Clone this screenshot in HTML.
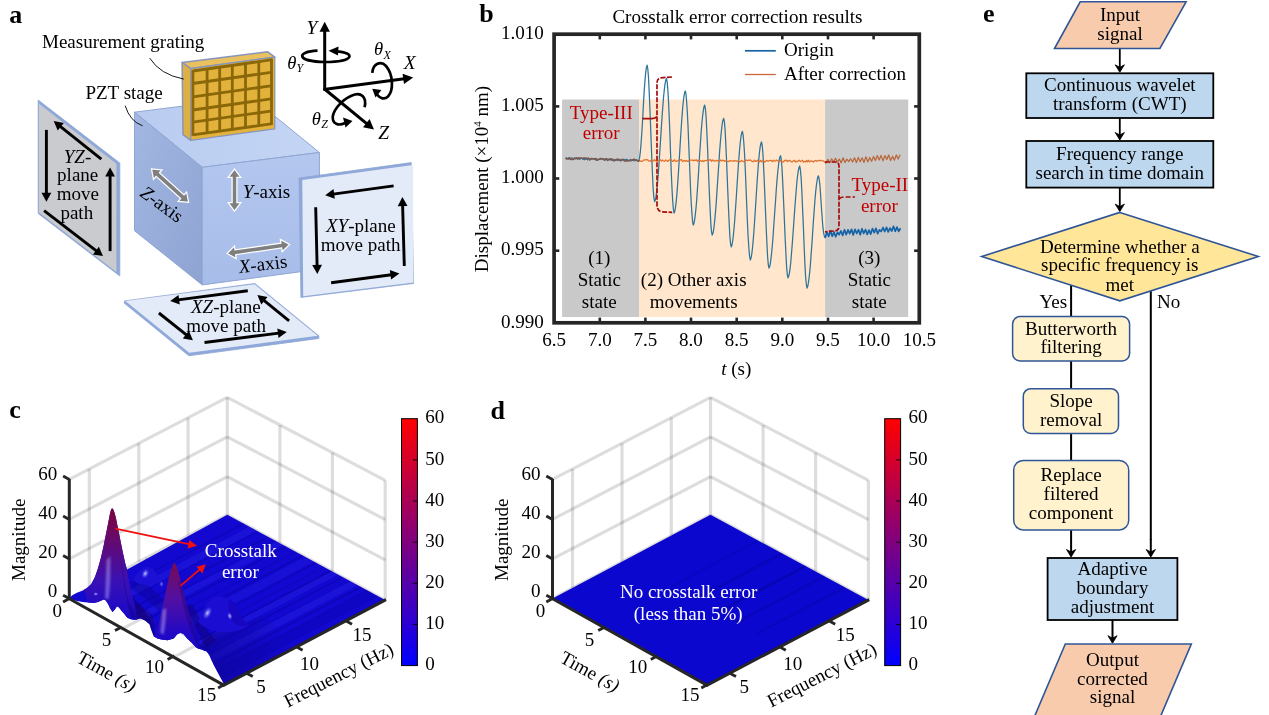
<!DOCTYPE html>
<html lang="en"><head><meta charset="utf-8"><title>Crosstalk error correction figure</title>
<style>
html,body{margin:0;padding:0;background:#fff;}
body{width:1269px;height:715px;overflow:hidden;}
svg{display:block;font-family:'Liberation Serif', serif;}
</style></head>
<body>
<svg width="1269" height="715" viewBox="0 0 1269 715">
<rect width="1269" height="715" fill="#fff"/>
<defs><linearGradient id="cubeL" x1="0" y1="0" x2="1" y2="1"><stop offset="0" stop-color="#A3B7E2"/><stop offset="1" stop-color="#8EA3D2"/></linearGradient><linearGradient id="cubeF" x1="0" y1="0" x2="0" y2="1"><stop offset="0" stop-color="#B3C7EF"/><stop offset="1" stop-color="#A7BCE8"/></linearGradient><linearGradient id="cubeT" x1="0" y1="0" x2="1" y2="0"><stop offset="0" stop-color="#B9CCF0"/><stop offset="1" stop-color="#C4D5F4"/></linearGradient></defs>
<g id="panel-a">
<text x="9.2" y="22.8" font-size="26" font-weight="bold">a</text>
<polygon points="38.2,100 119.8,163 119.8,276 38.2,213.5" fill="#8FA8DA" stroke="#8FA6D2" stroke-width="0.8"/>
<polygon points="39,103.8 116.4,163.8 116.4,272 39,212.6" fill="#C9CBCF"/>
<line x1="101.3" y1="159.2" x2="59.9" y2="126.1" stroke="#000" stroke-width="2.9"/><polygon points="53.7,121.1 63.8,122.9 57.7,130.5" fill="#000"/>
<line x1="46.4" y1="129.9" x2="46.4" y2="193.8" stroke="#000" stroke-width="2.9"/><polygon points="46.4,201.8 41.5,192.8 51.3,192.8" fill="#000"/>
<line x1="44.1" y1="210.6" x2="96.7" y2="251.2" stroke="#000" stroke-width="2.9"/><polygon points="103.0,256.1 92.9,254.5 98.9,246.7" fill="#000"/>
<line x1="110.1" y1="251.1" x2="110.1" y2="175.4" stroke="#000" stroke-width="2.9"/><polygon points="110.1,167.4 115.0,176.4 105.2,176.4" fill="#000"/>
<text x="77.5" y="163" font-size="19.05" text-anchor="middle"><tspan font-style="italic">YZ</tspan>-</text>
<text x="77.7" y="181.2" font-size="19.05" text-anchor="middle">plane</text>
<text x="77.8" y="200.3" font-size="19.05" text-anchor="middle">move</text>
<text x="76.8" y="218.5" font-size="19.05" text-anchor="middle">path</text>
<polygon points="134.5,112.2 202.2,167.3 319.4,152.5 251.7,97.4" fill="url(#cubeT)" stroke="#8FA6D2" stroke-width="1"/>
<polygon points="134.5,112.2 202.2,167.3 202.2,284.9 134.5,230.7" fill="url(#cubeL)" stroke="#8FA6D2" stroke-width="1"/>
<polygon points="202.2,167.3 319.4,152.5 319.4,269.2 202.2,284.9" fill="url(#cubeF)" stroke="#8FA6D2" stroke-width="1"/>
<polygon points="234.5,169.0 228.2,177.4 232.1,177.4 232.1,202.7 228.2,202.7 234.5,211.1 240.8,202.7 236.9,202.7 236.9,177.4 240.8,177.4" fill="#7F7F7F" stroke="#fff" stroke-width="1.25" stroke-linejoin="miter"/>
<polygon points="151.5,169.0 153.5,179.3 156.1,176.4 180.7,198.5 178.1,201.4 188.6,202.3 186.6,192.0 184.0,194.9 159.4,172.8 162.0,169.9" fill="#7F7F7F" stroke="#fff" stroke-width="1.25" stroke-linejoin="miter"/>
<polygon points="227.0,253.5 236.2,258.5 235.7,254.7 281.6,248.0 282.2,251.8 289.6,244.4 280.4,239.4 280.9,243.2 235.0,249.9 234.4,246.1" fill="#7F7F7F" stroke="#fff" stroke-width="1.25" stroke-linejoin="miter"/>
<text x="242.7" y="198" font-size="19.05"><tspan font-style="italic">Y</tspan>-axis</text>
<text transform="translate(139,195.3) rotate(36)" font-size="19.05"><tspan font-style="italic">Z</tspan>-axis</text>
<text transform="translate(239.5,273.3) rotate(-7)" font-size="19.05"><tspan font-style="italic">X</tspan>-axis</text>
<polygon points="182.1,62.5 267.8,51.8 274.8,57.1 190.8,68.6" fill="#E9C15F" stroke="#8795BA" stroke-width="1.5" stroke-linejoin="round"/>
<polygon points="182.1,62.5 190.8,68.6 190.8,140.3 183,134.6" fill="#DDB045" stroke="#8795BA" stroke-width="1.5" stroke-linejoin="round"/>
<polygon points="190.8,68.6 274.8,57.1 274.8,128.8 190.8,140.3" fill="#E3B23C" stroke="#8795BA" stroke-width="1.2" stroke-linejoin="round"/>
<line x1="192.8" y1="71.0" x2="272.4" y2="59.7" stroke="#8A6708" stroke-width="2.8"/>
<line x1="192.8" y1="83.5" x2="272.4" y2="72.2" stroke="#8A6708" stroke-width="2.8"/>
<line x1="192.8" y1="96.9" x2="272.4" y2="85.6" stroke="#8A6708" stroke-width="2.8"/>
<line x1="192.8" y1="110.0" x2="272.4" y2="98.7" stroke="#8A6708" stroke-width="2.8"/>
<line x1="192.8" y1="122.1" x2="272.4" y2="110.9" stroke="#8A6708" stroke-width="2.8"/>
<line x1="192.8" y1="134.9" x2="272.4" y2="123.7" stroke="#8A6708" stroke-width="2.8"/>
<line x1="192.9" y1="70.0" x2="192.9" y2="135.9" stroke="#8A6708" stroke-width="2.8"/>
<line x1="207.1" y1="68.0" x2="207.1" y2="133.9" stroke="#8A6708" stroke-width="2.8"/>
<line x1="219.7" y1="66.2" x2="219.7" y2="132.1" stroke="#8A6708" stroke-width="2.8"/>
<line x1="232.3" y1="64.4" x2="232.3" y2="130.3" stroke="#8A6708" stroke-width="2.8"/>
<line x1="245.5" y1="62.5" x2="245.5" y2="128.5" stroke="#8A6708" stroke-width="2.8"/>
<line x1="258.8" y1="60.6" x2="258.8" y2="126.6" stroke="#8A6708" stroke-width="2.8"/>
<line x1="271.5" y1="58.8" x2="271.5" y2="124.8" stroke="#8A6708" stroke-width="2.8"/>
<path d="M149.7,58.1 Q160,74.5 183.8,79.1" fill="none" stroke="#000" stroke-width="0.9"/>
<path d="M125.2,105.7 Q130,121.5 142.7,125.8" fill="none" stroke="#000" stroke-width="0.9"/>
<text x="42" y="47.9" font-size="19.05">Measurement grating</text>
<text x="85.4" y="98.6" font-size="19.05">PZT stage</text>
<polygon points="124.4,300.9 254.8,283.5 318.9,335.9 318.9,338.5 188.9,355.8 124.4,303.3" fill="#8FA8DA" stroke="#8FA6D2" stroke-width="0.8"/>
<polygon points="125.4,300.9 254.6,284.2 317.6,335.7 189.2,352.8" fill="#E4EBF8"/>
<line x1="247.8" y1="290.8" x2="178.1" y2="299.9" stroke="#000" stroke-width="2.9"/><polygon points="170.2,300.9 178.5,294.9 179.8,304.6" fill="#000"/>
<line x1="158.9" y1="313.0" x2="186.7" y2="335.2" stroke="#000" stroke-width="2.9"/><polygon points="192.9,340.2 182.8,338.4 188.9,330.8" fill="#000"/>
<line x1="204.5" y1="342.5" x2="278.9" y2="333.1" stroke="#000" stroke-width="2.9"/><polygon points="286.8,332.1 278.5,338.1 277.3,328.4" fill="#000"/>
<line x1="289.1" y1="320.8" x2="263.6" y2="300.1" stroke="#000" stroke-width="2.9"/><polygon points="257.4,295.1 267.5,297.0 261.3,304.6" fill="#000"/>
<text x="225.8" y="312.5" font-size="19.05" text-anchor="middle"><tspan font-style="italic">XZ</tspan>-plane</text>
<text x="226.2" y="331.5" font-size="19.05" text-anchor="middle">move path</text>
<polygon points="299,178 411.2,162.6 413.6,283.4 300.9,297.4" fill="#8FA8DA" stroke="#8FA6D2" stroke-width="0.8"/>
<polygon points="302.3,180 413,165 413.4,282.6 303.2,296.3" fill="#E4EBF8"/>
<line x1="393.6" y1="185.9" x2="333.1" y2="194.1" stroke="#000" stroke-width="2.9"/><polygon points="325.2,195.2 333.5,189.1 334.8,198.8" fill="#000"/>
<line x1="315.7" y1="207.3" x2="317.1" y2="265.9" stroke="#000" stroke-width="2.9"/><polygon points="317.3,273.9 312.2,265.0 322.0,264.8" fill="#000"/>
<line x1="331.1" y1="282.7" x2="391.5" y2="274.7" stroke="#000" stroke-width="2.9"/><polygon points="399.4,273.6 391.1,279.6 389.8,269.9" fill="#000"/>
<line x1="404.3" y1="266.0" x2="402.6" y2="205.1" stroke="#000" stroke-width="2.9"/><polygon points="402.4,197.1 407.5,206.0 397.7,206.2" fill="#000"/>
<text x="360.8" y="232.2" font-size="19.05" text-anchor="middle"><tspan font-style="italic">XY</tspan>-plane</text>
<text x="360.6" y="250.6" font-size="19.05" text-anchor="middle">move path</text>
<line x1="324.7" y1="90.5" x2="324.7" y2="30.8" stroke="#000" stroke-width="3.0"/><polygon points="324.7,21.8 329.9,31.8 319.5,31.8" fill="#000"/>
<line x1="323.7" y1="89.5" x2="404.3" y2="78.8" stroke="#000" stroke-width="3.0"/><polygon points="413.2,77.6 404.0,84.1 402.6,73.8" fill="#000"/>
<line x1="323.9" y1="88.5" x2="367.0" y2="123.8" stroke="#000" stroke-width="3.0"/><polygon points="374.0,129.5 363.0,127.2 369.6,119.1" fill="#000"/>
<path d="M317.5,50.6 C296,51.5 296,61.5 325,62 C355,62 356,52.5 336,51.3" fill="none" stroke="#000" stroke-width="2.7"/>
<polygon points="328.5,50.8 338.5,46.4 338,55.6" fill="#000"/>
<path d="M372.3,72.8 C373,63.5 381,60.5 386,66 C393,74 394,90 388,96.5 C384.5,100 380,98.5 377,94.5" fill="none" stroke="#000" stroke-width="2.7"/>
<polygon points="372.2,88.8 381.5,90 375.5,97.5" fill="#000"/>
<path d="M364.6,107.2 C367,97 361,91.5 352,95.5 C340,100.5 331,113 333,120 C334.5,125 340,125.5 345,123" fill="none" stroke="#000" stroke-width="2.7"/>
<polygon points="352.5,121 343,117.5 345.5,127.5" fill="#000"/>
<text x="306.5" y="34.3" font-size="19.5" font-style="italic">Y</text>
<text x="403.7" y="69.2" font-size="19.5" font-style="italic">X</text>
<text x="378.2" y="138.9" font-size="19.5" font-style="italic">Z</text>
<text x="287.2" y="68.6" font-size="18.6" font-style="italic">θ<tspan font-size="12" dy="3.8" dx="0.2">Y</tspan></text>
<text x="374" y="54.6" font-size="18.6" font-style="italic">θ<tspan font-size="12" dy="4.4" dx="0.3">X</tspan></text>
<text x="311.8" y="124.8" font-size="18.6" font-style="italic">θ<tspan font-size="12" dy="3.4" dx="0.3">Z</tspan></text>
</g>
<g id="panel-b">
<text x="479.2" y="22.4" font-size="26" font-weight="bold">b</text>
<text x="737.4" y="22.8" font-size="19.05" text-anchor="middle">Crosstalk error correction results</text>
<rect x="562.1" y="99.5" width="76.9" height="217.5" fill="#C9C9C9"/>
<rect x="639" y="99.5" width="186.1" height="217.5" fill="#FFE6CC"/>
<rect x="825.1" y="99.5" width="83.1" height="217.5" fill="#C9C9C9"/>
<text x="599.3" y="264.4" font-size="19.05" text-anchor="middle">(1)</text>
<text x="599.3" y="285.9" font-size="19.05" text-anchor="middle">Static</text>
<text x="599.3" y="307.8" font-size="19.05" text-anchor="middle">state</text>
<text x="693.7" y="285.9" font-size="19.05" text-anchor="middle">(2) Other axis</text>
<text x="693.7" y="307.8" font-size="19.05" text-anchor="middle">movements</text>
<text x="869.3" y="264.4" font-size="19.05" text-anchor="middle">(3)</text>
<text x="869.3" y="285.9" font-size="19.05" text-anchor="middle">Static</text>
<text x="869.3" y="307.8" font-size="19.05" text-anchor="middle">state</text>
<path d="M565.5,158.2 L566.6,157.9 L567.7,158.8 L568.8,157.8 L569.9,158.7 L571.0,158.4 L572.1,157.9 L573.2,158.7 L574.3,157.9 L575.4,158.6 L576.5,158.0 L577.6,158.1 L578.7,158.7 L579.8,159.4 L580.9,158.2 L582.0,158.4 L583.1,159.2 L584.2,159.8 L585.3,159.1 L586.4,158.8 L587.5,159.9 L588.6,158.3 L589.7,159.8 L590.8,158.8 L591.9,158.5 L593.0,158.5 L594.1,158.9 L595.2,159.8 L596.3,158.7 L597.4,159.5 L598.5,159.6 L599.6,159.1 L600.7,159.5 L601.8,158.6 L602.9,158.7 L604.0,159.0 L605.1,159.8 L606.2,159.4 L607.3,159.2 L608.4,159.8 L609.5,159.6 L610.6,159.3 L611.7,160.2 L612.8,160.1 L613.9,159.3 L615.0,159.9 L616.1,159.9 L617.2,160.5 L618.3,160.3 L619.4,159.5 L620.5,160.8 L621.6,159.3 L622.7,159.8 L623.8,160.5 L624.9,159.4 L626.0,160.1 L627.1,159.3 L628.2,160.4 L629.3,160.6 L630.4,160.3 L631.5,160.9 L632.6,159.9 L633.7,160.6 L634.8,160.5 L635.9,160.5 L637.0,160.3 L638.1,161.0 L638.8,160.5 L639.5,158.2 L640.2,153.2 L640.9,145.5 L641.6,135.9 L642.3,124.7 L643.0,112.8 L643.6,100.9 L644.3,89.7 L645.0,80.1 L645.7,72.4 L646.4,67.4 L647.1,65.1 L647.8,68.8 L648.5,77.3 L649.1,90.0 L649.8,106.0 L650.5,124.0 L651.2,142.8 L651.9,160.8 L652.6,176.8 L653.2,189.5 L653.9,198.0 L654.6,201.7 L655.3,200.0 L656.0,196.5 L656.7,191.2 L657.4,184.3 L658.1,176.0 L658.8,166.6 L659.5,156.3 L660.2,145.5 L660.9,134.6 L661.6,123.8 L662.3,113.5 L663.0,104.1 L663.7,95.8 L664.4,88.9 L665.1,83.6 L665.8,80.1 L666.5,78.4 L667.2,82.1 L667.9,90.5 L668.6,103.0 L669.3,118.7 L670.0,136.5 L670.6,155.0 L671.3,172.8 L672.0,188.5 L672.7,201.0 L673.4,209.4 L674.1,213.1 L674.8,211.3 L675.5,207.4 L676.2,201.6 L676.9,194.0 L677.6,184.9 L678.3,174.6 L679.0,163.5 L679.7,152.1 L680.4,140.6 L681.1,129.5 L681.8,119.2 L682.5,110.1 L683.2,102.5 L683.9,96.7 L684.6,92.8 L685.3,91.0 L686.0,94.2 L686.6,101.3 L687.3,112.0 L688.0,125.6 L688.6,141.3 L689.3,158.0 L690.0,174.7 L690.6,190.4 L691.3,204.0 L692.0,214.7 L692.6,221.8 L693.3,225.0 L694.0,223.4 L694.6,219.9 L695.3,214.8 L696.0,208.1 L696.7,200.0 L697.3,190.9 L698.0,180.9 L698.7,170.4 L699.3,159.7 L700.0,149.2 L700.7,139.2 L701.3,130.1 L702.0,122.0 L702.7,115.3 L703.4,110.2 L704.0,106.7 L704.7,105.1 L705.4,108.7 L706.1,116.8 L706.7,128.8 L707.4,144.0 L708.1,161.2 L708.8,179.0 L709.5,196.2 L710.2,211.4 L710.8,223.4 L711.5,231.5 L712.2,235.1 L712.9,233.5 L713.6,230.2 L714.2,225.2 L714.9,218.6 L715.6,210.8 L716.3,201.9 L716.9,192.2 L717.6,181.9 L718.3,171.6 L719.0,161.3 L719.6,151.6 L720.3,142.7 L721.0,134.9 L721.7,128.3 L722.3,123.3 L723.0,120.0 L723.7,118.4 L724.4,121.9 L725.1,129.9 L725.7,141.9 L726.4,156.9 L727.1,173.8 L727.8,191.5 L728.5,208.4 L729.2,223.4 L729.8,235.4 L730.5,243.4 L731.2,246.9 L731.9,245.2 L732.6,241.5 L733.3,236.0 L734.0,228.8 L734.7,220.2 L735.4,210.5 L736.1,200.0 L736.8,189.1 L737.5,178.2 L738.2,167.7 L738.9,158.0 L739.6,149.4 L740.3,142.2 L741.0,136.7 L741.7,133.0 L742.4,131.3 L743.1,134.8 L743.8,142.8 L744.6,154.8 L745.3,169.8 L746.0,186.8 L746.7,204.5 L747.4,221.5 L748.1,236.5 L748.9,248.5 L749.6,256.5 L750.3,260.0 L751.0,258.2 L751.7,254.5 L752.4,248.8 L753.1,241.5 L753.8,232.7 L754.5,222.8 L755.2,212.1 L755.9,201.0 L756.6,189.8 L757.3,179.1 L758.0,169.2 L758.7,160.4 L759.4,153.1 L760.1,147.4 L760.8,143.7 L761.5,141.9 L762.2,145.3 L762.9,153.2 L763.5,164.9 L764.2,179.7 L764.9,196.3 L765.6,213.6 L766.3,230.2 L767.0,245.0 L767.6,256.7 L768.3,264.6 L769.0,268.0 L769.7,266.5 L770.4,263.3 L771.0,258.4 L771.7,252.2 L772.4,244.6 L773.1,236.0 L773.7,226.7 L774.4,216.8 L775.1,206.9 L775.8,197.0 L776.4,187.7 L777.1,179.1 L777.8,171.5 L778.5,165.3 L779.1,160.4 L779.8,157.2 L780.5,155.7 L781.2,159.0 L781.9,166.6 L782.5,178.0 L783.2,192.3 L783.9,208.4 L784.6,225.1 L785.3,241.2 L786.0,255.5 L786.6,266.9 L787.3,274.5 L788.0,277.8 L788.7,276.3 L789.4,273.1 L790.1,268.3 L790.8,262.0 L791.4,254.5 L792.1,246.0 L792.8,236.7 L793.5,226.9 L794.2,216.9 L794.9,207.1 L795.6,197.8 L796.3,189.3 L796.9,181.8 L797.6,175.5 L798.3,170.7 L799.0,167.5 L799.7,166.0 L800.4,169.9 L801.2,178.9 L801.9,192.3 L802.6,208.9 L803.4,227.1 L804.1,245.2 L804.8,261.8 L805.5,275.2 L806.3,284.2 L807.0,288.1 L807.7,286.6 L808.3,283.4 L809.0,278.5 L809.7,272.3 L810.4,264.7 L811.0,256.1 L811.7,246.8 L812.4,236.9 L813.0,227.0 L813.7,217.1 L814.4,207.8 L815.0,199.2 L815.7,191.6 L816.4,185.4 L817.1,180.5 L817.7,177.3 L818.4,175.8 L819.1,178.6 L819.9,185.2 L820.6,194.7 L821.3,205.7 L822.1,216.7 L822.8,226.2 L823.6,232.8 L824.3,235.6" fill="none" stroke="#2C759B" stroke-width="1.25" stroke-linejoin="round"/>
<path d="M824.3,235.6 L825.2,237.4 L827.0,232.1 L828.7,236.4 L830.5,230.7 L832.2,236.3 L834.0,232.0 L835.7,236.8 L837.5,232.2 L839.2,234.7 L841.0,230.9 L842.7,235.5 L844.5,229.7 L846.2,234.7 L848.0,229.8 L849.7,233.6 L851.5,229.3 L853.2,235.0 L855.0,229.3 L856.7,233.5 L858.5,229.7 L860.2,234.8 L862.0,228.7 L863.7,233.5 L865.5,229.6 L867.2,234.4 L869.0,230.1 L870.7,234.1 L872.5,228.5 L874.2,232.7 L876.0,228.4 L877.7,233.7 L879.5,229.8 L881.2,231.5 L883.0,227.5 L884.7,231.5 L886.5,227.4 L888.2,231.9 L890.0,228.1 L891.7,231.1 L893.5,226.3 L895.2,231.3 L897.0,227.1 L898.7,231.4 L900.5,228.3" fill="none" stroke="#1663A6" stroke-width="1.7" stroke-linejoin="round"/>
<path d="M565.5,158.9 L566.5,158.5 L567.5,158.8 L568.5,158.9 L569.5,157.7 L570.5,159.4 L571.5,159.2 L572.5,159.4 L573.5,159.3 L574.5,158.5 L575.5,158.5 L576.5,158.0 L577.5,159.1 L578.5,157.9 L579.5,158.0 L580.5,158.3 L581.5,158.2 L582.5,158.6 L583.5,158.1 L584.5,158.0 L585.5,158.3 L586.5,158.2 L587.5,158.8 L588.5,158.1 L589.5,159.9 L590.5,159.4 L591.5,158.5 L592.5,158.7 L593.5,158.9 L594.5,159.0 L595.5,158.5 L596.5,160.0 L597.5,160.3 L598.5,159.3 L599.5,159.3 L600.5,158.6 L601.5,158.6 L602.5,159.1 L603.5,159.0 L604.5,160.2 L605.5,158.9 L606.5,158.6 L607.5,160.5 L608.5,159.7 L609.5,158.9 L610.5,159.7 L611.5,158.7 L612.5,159.8 L613.5,160.7 L614.5,160.5 L615.5,160.2 L616.5,159.3 L617.5,159.6 L618.5,159.2 L619.5,160.4 L620.5,160.0 L621.5,160.5 L622.5,159.6 L623.5,159.5 L624.5,160.7 L625.5,161.0 L626.5,160.8 L627.5,160.7 L628.5,160.8 L629.5,160.6 L630.5,159.6 L631.5,160.3 L632.5,160.0 L633.5,159.3 L634.5,159.4 L635.5,159.9 L636.5,159.9 L637.5,160.8 L638.5,161.3 L639.5,160.2 L640.5,161.2 L641.5,161.3 L642.5,161.2 L643.5,160.1 L644.5,159.8 L645.5,159.8 L646.5,159.7 L647.5,159.8 L648.5,160.6 L649.5,161.2 L650.5,161.0 L651.5,160.3 L652.5,160.7 L653.5,161.0 L654.5,159.6 L655.5,160.7 L656.5,161.2 L657.5,161.0 L658.5,160.9 L659.5,160.4 L660.5,159.8 L661.5,161.0 L662.5,160.1 L663.5,161.0 L664.5,161.4 L665.5,160.2 L666.5,160.3 L667.5,161.3 L668.5,160.9 L669.5,159.8 L670.5,159.7 L671.5,159.8 L672.5,161.3 L673.5,161.1 L674.5,159.8 L675.5,161.2 L676.5,161.5 L677.5,160.8 L678.5,160.2 L679.5,160.6 L680.5,159.8 L681.5,159.6 L682.5,161.5 L683.5,160.8 L684.5,160.6 L685.5,161.4 L686.5,160.4 L687.5,161.3 L688.5,161.2 L689.5,160.0 L690.5,160.1 L691.5,160.2 L692.5,160.1 L693.5,160.8 L694.5,160.1 L695.5,160.4 L696.5,159.9 L697.5,161.4 L698.5,160.3 L699.5,160.5 L700.5,160.8 L701.5,161.4 L702.5,160.5 L703.5,161.5 L704.5,160.7 L705.5,160.7 L706.5,160.7 L707.5,159.7 L708.5,160.6 L709.5,160.0 L710.5,159.7 L711.5,161.3 L712.5,160.0 L713.5,160.6 L714.5,161.2 L715.5,160.8 L716.5,160.4 L717.5,160.8 L718.5,160.8 L719.5,161.3 L720.5,160.0 L721.5,160.9 L722.5,160.2 L723.5,160.3 L724.5,161.3 L725.5,160.8 L726.5,160.9 L727.5,161.3 L728.5,161.6 L729.5,160.7 L730.5,161.0 L731.5,160.8 L732.5,160.8 L733.5,161.2 L734.5,160.7 L735.5,160.9 L736.5,160.8 L737.5,161.7 L738.5,161.2 L739.5,161.6 L740.5,161.7 L741.5,160.4 L742.5,161.0 L743.5,161.7 L744.5,161.5 L745.5,160.1 L746.5,160.1 L747.5,160.8 L748.5,160.0 L749.5,160.4 L750.5,160.0 L751.5,161.2 L752.5,161.5 L753.5,161.7 L754.5,160.2 L755.5,161.4 L756.5,161.3 L757.5,160.2 L758.5,161.7 L759.5,161.9 L760.5,160.4 L761.5,161.9 L762.5,160.8 L763.5,160.9 L764.5,162.0 L765.5,161.6 L766.5,160.3 L767.5,160.9 L768.5,161.0 L769.5,160.7 L770.5,160.4 L771.5,160.7 L772.5,161.5 L773.5,160.1 L774.5,161.1 L775.5,160.9 L776.5,160.1 L777.5,160.7 L778.5,161.3 L779.5,161.1 L780.5,160.2 L781.5,162.0 L782.5,161.6 L783.5,162.0 L784.5,160.3 L785.5,160.6 L786.5,160.2 L787.5,161.7 L788.5,160.6 L789.5,160.4 L790.5,161.0 L791.5,161.9 L792.5,161.8 L793.5,160.6 L794.5,160.4 L795.5,162.0 L796.5,161.3 L797.5,161.6 L798.5,160.3 L799.5,160.3 L800.5,161.5 L801.5,161.0 L802.5,160.3 L803.5,162.1 L804.5,161.5 L805.5,161.8 L806.5,160.4 L807.5,161.9 L808.5,160.3 L809.5,161.9 L810.5,161.1 L811.5,160.9 L812.5,161.3 L813.5,162.1 L814.5,160.8 L815.5,160.5 L816.5,161.3 L817.5,160.7 L818.5,160.5 L819.5,160.6 L820.5,160.4 L821.5,160.7 L822.5,160.9 L823.5,160.9 L824.5,161.8" fill="none" stroke="#DC6E28" stroke-width="1.3" stroke-linejoin="round" opacity="0.95"/>
<path d="M565.5,158.9 L566.5,158.5 L567.5,158.8 L568.5,158.9 L569.5,157.7 L570.5,159.4 L571.5,159.2 L572.5,159.4 L573.5,159.3 L574.5,158.5 L575.5,158.5 L576.5,158.0 L577.5,159.1 L578.5,157.9 L579.5,158.0 L580.5,158.3 L581.5,158.2 L582.5,158.6 L583.5,158.1 L584.5,158.0 L585.5,158.3 L586.5,158.2 L587.5,158.8 L588.5,158.1 L589.5,159.9 L590.5,159.4 L591.5,158.5 L592.5,158.7 L593.5,158.9 L594.5,159.0 L595.5,158.5 L596.5,160.0 L597.5,160.3 L598.5,159.3 L599.5,159.3 L600.5,158.6 L601.5,158.6 L602.5,159.1 L603.5,159.0 L604.5,160.2 L605.5,158.9 L606.5,158.6 L607.5,160.5 L608.5,159.7 L609.5,158.9 L610.5,159.7 L611.5,158.7 L612.5,159.8 L613.5,160.7 L614.5,160.5 L615.5,160.2 L616.5,159.3 L617.5,159.6 L618.5,159.2 L619.5,160.4 L620.5,160.0 L621.5,160.5 L622.5,159.6 L623.5,159.5 L624.5,160.7 L625.5,161.0 L626.5,160.8 L627.5,160.7 L628.5,160.8 L629.5,160.6 L630.5,159.6 L631.5,160.3 L632.5,160.0 L633.5,159.3 L634.5,159.4 L635.5,159.9 L636.5,159.9 L637.5,160.8 L638.5,161.3 L639.5,160.2" fill="none" stroke="#6E5A5C" stroke-width="1.5" stroke-linejoin="round"/>
<path d="M824.5,161.8 L826.0,163.2 L827.9,159.3 L829.8,162.8 L831.7,158.8 L833.6,162.2 L835.5,158.4 L837.4,162.0 L839.3,159.1 L841.2,162.9 L843.1,157.8 L845.0,162.5 L846.9,159.1 L848.8,161.6 L850.7,158.7 L852.6,162.0 L854.5,157.8 L856.4,162.6 L858.3,157.4 L860.2,161.7 L862.1,157.8 L864.0,162.4 L865.9,156.8 L867.8,161.9 L869.7,157.4 L871.6,161.3 L873.5,156.5 L875.4,160.5 L877.3,155.6 L879.2,159.9 L881.1,155.4 L883.0,160.9 L884.9,155.6 L886.8,159.5 L888.7,155.0 L890.6,160.6 L892.5,156.4 L894.4,160.1 L896.3,155.0 L898.2,159.0 L900.1,154.8" fill="none" stroke="#B9673A" stroke-width="1.25" stroke-linejoin="round"/>
<path d="M672,77 L661,77.8 Q657,78.3 657,83 L657,204.5 Q657,211.5 662,211.8 L672.2,212.3" fill="none" stroke="#A50C0C" stroke-width="1.7" stroke-dasharray="5,1.5"/>
<path d="M642.5,118.6 L652,118.6 Q655.5,118.6 657,116.5" fill="none" stroke="#A50C0C" stroke-width="1.6"/>
<text x="601.2" y="118.8" font-size="19.05" text-anchor="middle" fill="#C00000">Type-III</text>
<text x="601.2" y="139.4" font-size="19.05" text-anchor="middle" fill="#C00000">error</text>
<path d="M825,162 L835,162 Q839,162 839,166 L839,226 Q839,230.6 835,230.9 L825,231.8" fill="none" stroke="#A50C0C" stroke-width="1.7" stroke-dasharray="5,1.5"/>
<path d="M839,199 Q840.5,197 844,197 L855,197" fill="none" stroke="#A50C0C" stroke-width="1.6" stroke-dasharray="5,2"/>
<text x="879.8" y="190.5" font-size="19.05" text-anchor="middle" fill="#C00000">Type-II</text>
<text x="879.4" y="212" font-size="19.05" text-anchor="middle" fill="#C00000">error</text>
<line x1="744.9" y1="50.8" x2="775.8" y2="50.8" stroke="#1663A6" stroke-width="1.7"/>
<line x1="744.9" y1="74.5" x2="775.8" y2="74.5" stroke="#C9693A" stroke-width="1.3"/>
<text x="784" y="56.2" font-size="19.05">Origin</text>
<text x="784" y="79.9" font-size="19.05">After correction</text>
<rect x="554.1" y="34.2" width="365.19999999999993" height="288.6" fill="none" stroke="#262626" stroke-width="3.7"/>
<line x1="599.8" y1="322.8" x2="599.8" y2="317.6" stroke="#262626" stroke-width="2.6"/>
<line x1="599.8" y1="34.2" x2="599.8" y2="39.400000000000006" stroke="#262626" stroke-width="2.6"/>
<line x1="645.4" y1="322.8" x2="645.4" y2="317.6" stroke="#262626" stroke-width="2.6"/>
<line x1="645.4" y1="34.2" x2="645.4" y2="39.400000000000006" stroke="#262626" stroke-width="2.6"/>
<line x1="691.0" y1="322.8" x2="691.0" y2="317.6" stroke="#262626" stroke-width="2.6"/>
<line x1="691.0" y1="34.2" x2="691.0" y2="39.400000000000006" stroke="#262626" stroke-width="2.6"/>
<line x1="736.7" y1="322.8" x2="736.7" y2="317.6" stroke="#262626" stroke-width="2.6"/>
<line x1="736.7" y1="34.2" x2="736.7" y2="39.400000000000006" stroke="#262626" stroke-width="2.6"/>
<line x1="782.3" y1="322.8" x2="782.3" y2="317.6" stroke="#262626" stroke-width="2.6"/>
<line x1="782.3" y1="34.2" x2="782.3" y2="39.400000000000006" stroke="#262626" stroke-width="2.6"/>
<line x1="828.0" y1="322.8" x2="828.0" y2="317.6" stroke="#262626" stroke-width="2.6"/>
<line x1="828.0" y1="34.2" x2="828.0" y2="39.400000000000006" stroke="#262626" stroke-width="2.6"/>
<line x1="873.6" y1="322.8" x2="873.6" y2="317.6" stroke="#262626" stroke-width="2.6"/>
<line x1="873.6" y1="34.2" x2="873.6" y2="39.400000000000006" stroke="#262626" stroke-width="2.6"/>
<line x1="554.1" y1="106.4" x2="559.3000000000001" y2="106.4" stroke="#262626" stroke-width="2.6"/>
<line x1="919.3" y1="106.4" x2="914.0999999999999" y2="106.4" stroke="#262626" stroke-width="2.6"/>
<line x1="554.1" y1="178.5" x2="559.3000000000001" y2="178.5" stroke="#262626" stroke-width="2.6"/>
<line x1="919.3" y1="178.5" x2="914.0999999999999" y2="178.5" stroke="#262626" stroke-width="2.6"/>
<line x1="554.1" y1="250.7" x2="559.3000000000001" y2="250.7" stroke="#262626" stroke-width="2.6"/>
<line x1="919.3" y1="250.7" x2="914.0999999999999" y2="250.7" stroke="#262626" stroke-width="2.6"/>
<text x="554.1" y="345.6" font-size="19.05" text-anchor="middle">6.5</text>
<text x="599.8" y="345.6" font-size="19.05" text-anchor="middle">7.0</text>
<text x="645.4" y="345.6" font-size="19.05" text-anchor="middle">7.5</text>
<text x="691.0" y="345.6" font-size="19.05" text-anchor="middle">8.0</text>
<text x="736.7" y="345.6" font-size="19.05" text-anchor="middle">8.5</text>
<text x="782.3" y="345.6" font-size="19.05" text-anchor="middle">9.0</text>
<text x="828.0" y="345.6" font-size="19.05" text-anchor="middle">9.5</text>
<text x="873.6" y="345.6" font-size="19.05" text-anchor="middle">10.0</text>
<text x="919.3" y="345.6" font-size="19.05" text-anchor="middle">10.5</text>
<text x="543.9" y="38.9" font-size="19.05" text-anchor="end">1.010</text>
<text x="543.9" y="111.1" font-size="19.05" text-anchor="end">1.005</text>
<text x="543.9" y="183.2" font-size="19.05" text-anchor="end">1.000</text>
<text x="543.9" y="255.4" font-size="19.05" text-anchor="end">0.995</text>
<text x="543.9" y="327.5" font-size="19.05" text-anchor="end">0.990</text>
<text x="736.3" y="374.8" font-size="19.05" text-anchor="middle"><tspan font-style="italic">t</tspan> (s)</text>
<text transform="translate(488,179) rotate(-90)" font-size="19.05" text-anchor="middle">Displacement (×10<tspan font-size="11" dy="-7">4</tspan><tspan dy="7"> nm)</tspan></text>
</g>
<defs><linearGradient id="cbar" x1="0" y1="0" x2="0" y2="1"><stop offset="0" stop-color="#FF0000"/><stop offset="0.5" stop-color="#80007F"/><stop offset="1" stop-color="#0000FF"/></linearGradient><linearGradient id="pk1" x1="0" y1="0" x2="0" y2="1"><stop offset="0" stop-color="#7E0638"/><stop offset="0.3" stop-color="#640A70"/><stop offset="0.65" stop-color="#3A10B4"/><stop offset="1" stop-color="#1608CC"/></linearGradient><linearGradient id="pk2" x1="0" y1="0" x2="0" y2="1"><stop offset="0" stop-color="#7A0A50"/><stop offset="0.4" stop-color="#5310A0"/><stop offset="0.8" stop-color="#2408C4"/><stop offset="1" stop-color="#1608CC"/></linearGradient><radialGradient id="glow"><stop offset="0" stop-color="#D8D6FF" stop-opacity="0.95"/><stop offset="0.45" stop-color="#8C88FF" stop-opacity="0.6"/><stop offset="1" stop-color="#4A40F0" stop-opacity="0"/></radialGradient><linearGradient id="fslope" gradientUnits="userSpaceOnUse" x1="212" y1="668" x2="285" y2="629"><stop offset="0" stop-color="#0E0494" stop-opacity="0.62"/><stop offset="0.6" stop-color="#0E0494" stop-opacity="0.3"/><stop offset="1" stop-color="#0E0494" stop-opacity="0"/></linearGradient><filter id="soft" x="-50%" y="-20%" width="200%" height="140%"><feGaussianBlur stdDeviation="1.1"/></filter><linearGradient id="pkhl" x1="0" y1="0" x2="1" y2="0"><stop offset="0" stop-color="#fff" stop-opacity="0"/><stop offset="0.5" stop-color="#fff" stop-opacity="0.28"/><stop offset="1" stop-color="#fff" stop-opacity="0"/></linearGradient></defs>
<g id="panel-c">
<text x="9.2" y="418" font-size="26" font-weight="bold">c</text>
<line x1="69.3" y1="598.6" x2="227.3" y2="514.8" stroke="#000" stroke-opacity="0.135" stroke-width="3.2" stroke-linecap="butt"/>
<line x1="227.3" y1="514.8" x2="385.2" y2="600.1" stroke="#000" stroke-opacity="0.135" stroke-width="3.2" stroke-linecap="butt"/>
<line x1="69.3" y1="558.9" x2="227.3" y2="476.6" stroke="#000" stroke-opacity="0.135" stroke-width="3.2" stroke-linecap="butt"/>
<line x1="227.3" y1="476.6" x2="385.2" y2="559.8" stroke="#000" stroke-opacity="0.135" stroke-width="3.2" stroke-linecap="butt"/>
<line x1="69.3" y1="519.4" x2="227.3" y2="436.8" stroke="#000" stroke-opacity="0.135" stroke-width="3.2" stroke-linecap="butt"/>
<line x1="227.3" y1="436.8" x2="385.2" y2="519.6" stroke="#000" stroke-opacity="0.135" stroke-width="3.2" stroke-linecap="butt"/>
<line x1="69.3" y1="479.4" x2="227.3" y2="397.4" stroke="#000" stroke-opacity="0.135" stroke-width="3.2" stroke-linecap="butt"/>
<line x1="227.3" y1="397.4" x2="385.2" y2="480.3" stroke="#000" stroke-opacity="0.135" stroke-width="3.2" stroke-linecap="butt"/>
<line x1="89.3" y1="588.0" x2="89.3" y2="469.0" stroke="#000" stroke-opacity="0.135" stroke-width="3.2" stroke-linecap="butt"/>
<line x1="138.8" y1="561.7" x2="138.8" y2="443.3" stroke="#000" stroke-opacity="0.135" stroke-width="3.2" stroke-linecap="butt"/>
<line x1="188.1" y1="535.6" x2="188.1" y2="417.7" stroke="#000" stroke-opacity="0.135" stroke-width="3.2" stroke-linecap="butt"/>
<line x1="227.3" y1="514.8" x2="227.3" y2="397.4" stroke="#000" stroke-opacity="0.135" stroke-width="3.2" stroke-linecap="butt"/>
<line x1="279.9" y1="543.2" x2="279.9" y2="425.0" stroke="#000" stroke-opacity="0.135" stroke-width="3.2" stroke-linecap="butt"/>
<line x1="332.4" y1="571.6" x2="332.4" y2="452.6" stroke="#000" stroke-opacity="0.135" stroke-width="3.2" stroke-linecap="butt"/>
<line x1="385.2" y1="600.1" x2="385.2" y2="480.3" stroke="#000" stroke-opacity="0.135" stroke-width="3.2" stroke-linecap="butt"/>
<line x1="121.2" y1="629.4" x2="279.2" y2="545.6" stroke="#000" stroke-opacity="0.135" stroke-width="3.2" stroke-linecap="butt"/>
<line x1="173.8" y1="657.2" x2="331.8" y2="573.4" stroke="#000" stroke-opacity="0.135" stroke-width="3.2" stroke-linecap="butt"/>
<line x1="249.9" y1="671.3" x2="95.4" y2="584.7" stroke="#000" stroke-opacity="0.135" stroke-width="3.2" stroke-linecap="butt"/>
<line x1="299.8" y1="645.1" x2="145.3" y2="558.5" stroke="#000" stroke-opacity="0.135" stroke-width="3.2" stroke-linecap="butt"/>
<line x1="349.2" y1="619.1" x2="194.7" y2="532.5" stroke="#000" stroke-opacity="0.135" stroke-width="3.2" stroke-linecap="butt"/>
<polygon points="69.3,598.6 72.3,595.3 77,592.8 82.4,590.7 87,588 91.3,584 95,577 98,568.3 101,557.5 103.6,545.9 106,534 108.1,523.6 110,513.5 111.2,509.3 112.2,508.2 113.3,509.5 114.6,513 115.9,518 117.5,526 119.3,534.7 121.5,546 123.8,557.1 125.5,564.5 127.1,569.6 227.3,514.8 385.2,600.1 224.3,684.6 222.9,682.1 218,673 214.5,666.5 211.6,660.4 209.3,655 206.5,651.6 203.5,650.5 201.7,649.6 198.5,648.8 196.1,647.4 191.5,642.5 187.1,638.4 183.5,634 180.4,632.8 177,634.5 173.7,638.4 167.5,640.3 161.4,639.6 157.5,638.5 153.6,636.2 151,629 149.5,624.2 145,620.5 140.5,618.6 137,619.5 133.8,619.8 130,619 127.1,617.5 124,613.5 121.5,610.8 119,607.5 117,606.3 114.8,609.5 112.6,611.9 110.2,608.5 108.1,604.1 105.8,600.5 103.6,599.6 98,602 93.6,603 88,602.6 82.4,601.9 75,600.4" fill="#1208D0"/>
<clipPath id="surfc"><polygon points="69.3,598.6 72.3,595.3 77,592.8 82.4,590.7 87,588 91.3,584 95,577 98,568.3 101,557.5 103.6,545.9 106,534 108.1,523.6 110,513.5 111.2,509.3 112.2,508.2 113.3,509.5 114.6,513 115.9,518 117.5,526 119.3,534.7 121.5,546 123.8,557.1 125.5,564.5 127.1,569.6 227.3,514.8 385.2,600.1 224.3,684.6 222.9,682.1 218,673 214.5,666.5 211.6,660.4 209.3,655 206.5,651.6 203.5,650.5 201.7,649.6 198.5,648.8 196.1,647.4 191.5,642.5 187.1,638.4 183.5,634 180.4,632.8 177,634.5 173.7,638.4 167.5,640.3 161.4,639.6 157.5,638.5 153.6,636.2 151,629 149.5,624.2 145,620.5 140.5,618.6 137,619.5 133.8,619.8 130,619 127.1,617.5 124,613.5 121.5,610.8 119,607.5 117,606.3 114.8,609.5 112.6,611.9 110.2,608.5 108.1,604.1 105.8,600.5 103.6,599.6 98,602 93.6,603 88,602.6 82.4,601.9 75,600.4"/></clipPath>
<g clip-path="url(#surfc)">
<line x1="94.1" y1="612.4" x2="255.0" y2="527.9" stroke="#4A4AFF" stroke-opacity="0.16" stroke-width="7"/>
<line x1="120.5" y1="627.0" x2="281.3" y2="542.5" stroke="#4A4AFF" stroke-opacity="0.16" stroke-width="6"/>
<line x1="149.9" y1="643.3" x2="310.8" y2="558.8" stroke="#4A4AFF" stroke-opacity="0.14" stroke-width="8"/>
<line x1="174.7" y1="657.1" x2="335.6" y2="572.6" stroke="#4A4AFF" stroke-opacity="0.16" stroke-width="6"/>
<line x1="193.3" y1="667.4" x2="354.2" y2="582.9" stroke="#4A4AFF" stroke-opacity="0.18" stroke-width="7"/>
<line x1="211.1" y1="677.3" x2="372.0" y2="592.8" stroke="#000090" stroke-opacity="0.16" stroke-width="8"/>
<line x1="84.8" y1="607.2" x2="245.7" y2="522.7" stroke="#00006A" stroke-opacity="0.27" stroke-width="1.1"/>
<line x1="98.8" y1="614.9" x2="259.6" y2="530.4" stroke="#00006A" stroke-opacity="0.21" stroke-width="1.0"/>
<line x1="108.8" y1="620.5" x2="269.7" y2="536.0" stroke="#00006A" stroke-opacity="0.30" stroke-width="1.3"/>
<line x1="115.8" y1="624.4" x2="276.7" y2="539.9" stroke="#00006A" stroke-opacity="0.18" stroke-width="1.0"/>
<line x1="126.7" y1="630.4" x2="287.5" y2="545.9" stroke="#00006A" stroke-opacity="0.30" stroke-width="1.2"/>
<line x1="135.9" y1="635.6" x2="296.8" y2="551.1" stroke="#00006A" stroke-opacity="0.21" stroke-width="1.0"/>
<line x1="142.9" y1="639.5" x2="303.8" y2="555.0" stroke="#00006A" stroke-opacity="0.30" stroke-width="1.3"/>
<line x1="156.1" y1="646.8" x2="317.0" y2="562.3" stroke="#00006A" stroke-opacity="0.27" stroke-width="1.1"/>
<line x1="163.8" y1="651.1" x2="324.8" y2="566.6" stroke="#00006A" stroke-opacity="0.18" stroke-width="1.0"/>
<line x1="170.8" y1="654.9" x2="331.7" y2="570.4" stroke="#00006A" stroke-opacity="0.30" stroke-width="1.3"/>
<line x1="182.4" y1="661.4" x2="343.3" y2="576.9" stroke="#00006A" stroke-opacity="0.27" stroke-width="1.2"/>
<line x1="189.4" y1="665.2" x2="350.3" y2="580.8" stroke="#00006A" stroke-opacity="0.18" stroke-width="1.0"/>
<line x1="200.3" y1="671.3" x2="361.2" y2="586.8" stroke="#00006A" stroke-opacity="0.30" stroke-width="1.3"/>
<line x1="206.5" y1="674.7" x2="367.4" y2="590.2" stroke="#00006A" stroke-opacity="0.24" stroke-width="1.1"/>
<line x1="216.6" y1="680.3" x2="377.4" y2="595.8" stroke="#00006A" stroke-opacity="0.27" stroke-width="1.2"/>
<polygon points="196.1,647.4 201.7,649.6 206.5,651.6 211.6,660.4 218,673 224.3,684.6 300,645 262,615 232,627 212,634" fill="url(#fslope)"/>
<path d="M126,590 C133,598 142,604 150,620 L158,640 L140.5,618.6 L127.1,617.5 Z" fill="#0A0070" opacity="0.5"/>
<path d="M124,596 C132,602 142,606 152,614 L156,630 L146,620 L127,617 Z" fill="#200060" opacity="0.35"/>
<path d="M186,606 C192,620 198,634 206,648 L216,640 C206,630 198,616 192,604 Z" fill="#14006A" opacity="0.45"/>
<path d="M136,578 C150,585 160,596 164,600 L160,612 C150,602 140,594 130,588 Z" fill="#0A0078" opacity="0.3"/>
</g>
<path d="M133,580 C138,571 143,566.5 148,567 C153,567.5 156,572 160,580 C152,586 141,587 133,580 Z" fill="#1C10D4"/>
<ellipse cx="145.3" cy="573.6" rx="3.6" ry="5.2" transform="rotate(25 145.3 573.6)" fill="url(#glow)"/>
<ellipse cx="161.5" cy="584" rx="2.4" ry="3.4" fill="url(#glow)" opacity="0.6"/>
<path d="M198,622 C203,608 209,598.5 216.2,597 C221,596.2 226,597.5 229.6,599.3 C234,602 237,607 240,614 C243,620 246,623 250,625 C238,634 212,636 198,622 Z" fill="#1B0ED2"/>
<path d="M229.6,599.3 C234,602 237,607 240,614 C243,620 246,623 250,625 C242,628 234,626 230,618 C228,611 228,604 229.6,599.3 Z" fill="#1604B4" opacity="0.6"/>
<ellipse cx="207.5" cy="613" rx="4" ry="7" transform="rotate(28 207.5 613)" fill="url(#glow)"/>
<ellipse cx="229.8" cy="616" rx="2.6" ry="4.2" transform="rotate(-15 229.8 616)" fill="url(#glow)"/>
<polygon points="84,590 87,588 91.3,584 95,577 98,568.3 101,557.5 103.6,545.9 106,534 108.1,523.6 110,513.5 111.2,509.3 112.2,508.2 113.3,509.5 114.6,513 115.9,518 117.5,526 119.3,534.7 121.5,546 123.8,557.1 125.5,564.5 127.1,570.5 129.4,584 132.7,597.4 135,606.3 137,619.5 133.8,619.8 130,619 127.1,617.5 124,613.5 121.5,610.8 119,607.5 117,606.3 114.8,609.5 112.6,611.9 110.2,608.5 108.1,604.1 105.8,600.5 103.6,599.6 98,602 93.6,603 88,602.6" fill="url(#pk1)"/>
<path d="M118,540 C121,560 124,580 128,600 L135,612 L137,619.5 L131,619 C126,600 122,570 118,540 Z" fill="#10006E" opacity="0.35"/>
<path d="M106.5,560 C106,575 105.5,588 105,598 L108.5,599.5 C110.3,588 110.6,574 110.3,556 Z" fill="#C0B8FF" opacity="0.42" filter="url(#soft)"/>
<ellipse cx="95.8" cy="594" rx="2.6" ry="2" fill="url(#glow)"/>
<polygon points="153.6,636.2 157.3,628.7 160.7,615.3 163,605 165.1,595.1 167.4,584.5 169.6,575 171.5,568 173,564.2 174.2,562.7 175.6,564 177.5,569 179.5,576.5 181.5,584.7 184.3,596 187.1,607.1 190.5,616.5 193.8,625 196,633 198.3,640.7 200.5,647.4 201.7,649.6 198.5,648.8 196.1,647.4 191.5,642.5 187.1,638.4 183.5,634 180.4,632.8 177,634.5 173.7,638.4 167.5,640.3 161.4,639.6 157.5,638.5" fill="url(#pk2)"/>
<path d="M178,580 C181,598 186,618 192,634 L198.5,648.8 L201.7,649.6 L196,633 C190,616 185,598 181.5,584.7 Z" fill="#10006E" opacity="0.3"/>
<path d="M162.4,610 C161.8,618 161,626 160.3,633 L163.6,634.5 C165.4,626 166,618 166.2,608 Z" fill="#C0B8FF" opacity="0.45" filter="url(#soft)"/>
<line x1="115.4" y1="528.7" x2="190" y2="544.4" stroke="#F01010" stroke-width="1.8"/>
<polygon points="197,545.8 187.5,548.6 189.3,540" fill="#F01010"/>
<line x1="180.4" y1="585.9" x2="200" y2="569.2" stroke="#F01010" stroke-width="1.8"/>
<polygon points="205.8,564.3 202.3,573.4 196.6,566.8" fill="#F01010"/>
<text x="240.8" y="556.9" font-size="19.05" text-anchor="middle" fill="#fff">Crosstalk</text>
<text x="240.4" y="577.8" font-size="19.05" text-anchor="middle" fill="#fff">error</text>
<line x1="69.3" y1="478.9" x2="69.3" y2="599.6" stroke="#262626" stroke-width="3.0" stroke-linecap="butt"/>
<line x1="69.3" y1="598.6" x2="63.1" y2="595.2" stroke="#262626" stroke-width="2.8" stroke-linecap="butt"/>
<line x1="69.3" y1="558.9" x2="63.1" y2="555.5" stroke="#262626" stroke-width="2.8" stroke-linecap="butt"/>
<line x1="69.3" y1="519.4" x2="63.1" y2="516.0" stroke="#262626" stroke-width="2.8" stroke-linecap="butt"/>
<line x1="69.3" y1="479.4" x2="63.1" y2="476.0" stroke="#262626" stroke-width="2.8" stroke-linecap="butt"/>
<line x1="68.5" y1="598.2" x2="224.6" y2="685.6" stroke="#262626" stroke-width="3.0" stroke-linecap="butt"/>
<line x1="69.8" y1="598.3" x2="63.1" y2="602.0" stroke="#262626" stroke-width="2.8" stroke-linecap="butt"/>
<line x1="121.7" y1="626.9" x2="115.0" y2="630.6" stroke="#262626" stroke-width="2.8" stroke-linecap="butt"/>
<line x1="174.3" y1="655.7" x2="167.6" y2="659.4" stroke="#262626" stroke-width="2.8" stroke-linecap="butt"/>
<line x1="224.8" y1="684.3" x2="218.1" y2="688.0" stroke="#262626" stroke-width="2.8" stroke-linecap="butt"/>
<line x1="223.0" y1="685.6" x2="386.0" y2="599.7" stroke="#262626" stroke-width="3.0" stroke-linecap="butt"/>
<line x1="246.1" y1="672.9" x2="252.8" y2="676.6" stroke="#262626" stroke-width="2.8" stroke-linecap="butt"/>
<line x1="295.9" y1="646.6" x2="302.6" y2="650.3" stroke="#262626" stroke-width="2.8" stroke-linecap="butt"/>
<line x1="345.3" y1="620.6" x2="352.0" y2="624.3" stroke="#262626" stroke-width="2.8" stroke-linecap="butt"/>
<text x="57.3" y="596.8" font-size="19.05" text-anchor="end">0</text>
<text x="57.3" y="558" font-size="19.05" text-anchor="end">20</text>
<text x="57.3" y="518.5" font-size="19.05" text-anchor="end">40</text>
<text x="57.3" y="480.4" font-size="19.05" text-anchor="end">60</text>
<text x="57.3" y="617.3" font-size="19.05" text-anchor="middle">0</text>
<text x="106.4" y="645.8" font-size="19.05" text-anchor="middle">5</text>
<text x="154.5" y="673" font-size="19.05" text-anchor="middle">10</text>
<text x="206.7" y="700.8" font-size="19.05" text-anchor="middle">15</text>
<text x="261" y="692.8" font-size="19.05" text-anchor="middle">5</text>
<text x="309.5" y="670" font-size="19.05" text-anchor="middle">10</text>
<text x="362" y="641" font-size="19.05" text-anchor="middle">15</text>
<text transform="translate(103.6,677) rotate(29)" font-size="19.05" text-anchor="middle">Time <tspan font-style="italic">(s)</tspan></text>
<text transform="translate(341.4,680.5) rotate(-27)" font-size="19.05" text-anchor="middle">Frequency (Hz)</text>
<text transform="translate(25.2,539.8) rotate(-90)" font-size="19.05" text-anchor="middle">Magnitude</text>
<rect x="401.5" y="418.7" width="15.9" height="246.9" fill="url(#cbar)" stroke="#000" stroke-width="1"/>
<text x="425.3" y="670.2" font-size="19.05">0</text>
<line x1="412.9" y1="624.5" x2="417.4" y2="624.5" stroke="#000" stroke-width="0.9"/>
<text x="425.3" y="629.1" font-size="19.05">10</text>
<line x1="412.9" y1="583.3" x2="417.4" y2="583.3" stroke="#000" stroke-width="0.9"/>
<text x="425.3" y="587.9" font-size="19.05">20</text>
<line x1="412.9" y1="542.2" x2="417.4" y2="542.2" stroke="#000" stroke-width="0.9"/>
<text x="425.3" y="546.8" font-size="19.05">30</text>
<line x1="412.9" y1="501.0" x2="417.4" y2="501.0" stroke="#000" stroke-width="0.9"/>
<text x="425.3" y="505.6" font-size="19.05">40</text>
<line x1="412.9" y1="459.9" x2="417.4" y2="459.9" stroke="#000" stroke-width="0.9"/>
<text x="425.3" y="464.5" font-size="19.05">50</text>
<text x="425.3" y="423.3" font-size="19.05">60</text>
</g>
<g id="panel-d">
<text x="490.6" y="418.5" font-size="26" font-weight="bold">d</text>
<line x1="552.5" y1="598.6" x2="710.5" y2="514.8" stroke="#000" stroke-opacity="0.135" stroke-width="3.2" stroke-linecap="butt"/>
<line x1="710.5" y1="514.8" x2="868.4" y2="600.1" stroke="#000" stroke-opacity="0.135" stroke-width="3.2" stroke-linecap="butt"/>
<line x1="552.5" y1="558.9" x2="710.5" y2="476.6" stroke="#000" stroke-opacity="0.135" stroke-width="3.2" stroke-linecap="butt"/>
<line x1="710.5" y1="476.6" x2="868.4" y2="559.8" stroke="#000" stroke-opacity="0.135" stroke-width="3.2" stroke-linecap="butt"/>
<line x1="552.5" y1="519.4" x2="710.5" y2="436.8" stroke="#000" stroke-opacity="0.135" stroke-width="3.2" stroke-linecap="butt"/>
<line x1="710.5" y1="436.8" x2="868.4" y2="519.6" stroke="#000" stroke-opacity="0.135" stroke-width="3.2" stroke-linecap="butt"/>
<line x1="552.5" y1="479.4" x2="710.5" y2="397.4" stroke="#000" stroke-opacity="0.135" stroke-width="3.2" stroke-linecap="butt"/>
<line x1="710.5" y1="397.4" x2="868.4" y2="480.3" stroke="#000" stroke-opacity="0.135" stroke-width="3.2" stroke-linecap="butt"/>
<line x1="572.5" y1="588.0" x2="572.5" y2="469.0" stroke="#000" stroke-opacity="0.135" stroke-width="3.2" stroke-linecap="butt"/>
<line x1="622.0" y1="561.7" x2="622.0" y2="443.3" stroke="#000" stroke-opacity="0.135" stroke-width="3.2" stroke-linecap="butt"/>
<line x1="671.3" y1="535.6" x2="671.3" y2="417.7" stroke="#000" stroke-opacity="0.135" stroke-width="3.2" stroke-linecap="butt"/>
<line x1="710.5" y1="514.8" x2="710.5" y2="397.4" stroke="#000" stroke-opacity="0.135" stroke-width="3.2" stroke-linecap="butt"/>
<line x1="763.1" y1="543.2" x2="763.1" y2="425.0" stroke="#000" stroke-opacity="0.135" stroke-width="3.2" stroke-linecap="butt"/>
<line x1="815.6" y1="571.6" x2="815.6" y2="452.6" stroke="#000" stroke-opacity="0.135" stroke-width="3.2" stroke-linecap="butt"/>
<line x1="868.4" y1="600.1" x2="868.4" y2="480.3" stroke="#000" stroke-opacity="0.135" stroke-width="3.2" stroke-linecap="butt"/>
<line x1="604.4" y1="629.4" x2="762.4" y2="545.6" stroke="#000" stroke-opacity="0.135" stroke-width="3.2" stroke-linecap="butt"/>
<line x1="657.0" y1="657.2" x2="815.0" y2="573.4" stroke="#000" stroke-opacity="0.135" stroke-width="3.2" stroke-linecap="butt"/>
<line x1="733.1" y1="671.3" x2="578.6" y2="584.7" stroke="#000" stroke-opacity="0.135" stroke-width="3.2" stroke-linecap="butt"/>
<line x1="783.0" y1="645.1" x2="628.5" y2="558.5" stroke="#000" stroke-opacity="0.135" stroke-width="3.2" stroke-linecap="butt"/>
<line x1="832.4" y1="619.1" x2="677.9" y2="532.5" stroke="#000" stroke-opacity="0.135" stroke-width="3.2" stroke-linecap="butt"/>
<polygon points="552.5,598.6 710.5,514.8 868.4,600.1 707.5,684.6" fill="#0B07CE"/>
<clipPath id="surfd"><polygon points="552.5,598.6 710.5,514.8 868.4,600.1 707.5,684.6"/></clipPath>
<g clip-path="url(#surfd)">
<line x1="671.4" y1="586.4" x2="759.9" y2="539.9" stroke="#000060" stroke-opacity="0.12" stroke-width="2"/>
<line x1="694.7" y1="599.3" x2="783.1" y2="552.8" stroke="#000060" stroke-opacity="0.18" stroke-width="2.5"/>
<line x1="717.9" y1="612.2" x2="806.4" y2="565.7" stroke="#000060" stroke-opacity="0.22" stroke-width="2.5"/>
<line x1="736.5" y1="622.5" x2="825.0" y2="576.0" stroke="#000060" stroke-opacity="0.18" stroke-width="2"/>
<line x1="756.7" y1="633.7" x2="845.1" y2="587.2" stroke="#000060" stroke-opacity="0.15" stroke-width="2"/>
</g>
<text x="688.6" y="598.4" font-size="19.05" text-anchor="middle" fill="#fff">No crosstalk error</text>
<text x="688.2" y="620.2" font-size="19.05" text-anchor="middle" fill="#fff">(less than 5%)</text>
<line x1="552.5" y1="478.9" x2="552.5" y2="599.6" stroke="#262626" stroke-width="3.0" stroke-linecap="butt"/>
<line x1="552.5" y1="598.6" x2="546.3" y2="595.2" stroke="#262626" stroke-width="2.8" stroke-linecap="butt"/>
<line x1="552.5" y1="558.9" x2="546.3" y2="555.5" stroke="#262626" stroke-width="2.8" stroke-linecap="butt"/>
<line x1="552.5" y1="519.4" x2="546.3" y2="516.0" stroke="#262626" stroke-width="2.8" stroke-linecap="butt"/>
<line x1="552.5" y1="479.4" x2="546.3" y2="476.0" stroke="#262626" stroke-width="2.8" stroke-linecap="butt"/>
<line x1="551.7" y1="598.2" x2="707.8" y2="685.6" stroke="#262626" stroke-width="3.0" stroke-linecap="butt"/>
<line x1="553.0" y1="598.3" x2="546.3" y2="602.0" stroke="#262626" stroke-width="2.8" stroke-linecap="butt"/>
<line x1="604.9" y1="626.9" x2="598.2" y2="630.6" stroke="#262626" stroke-width="2.8" stroke-linecap="butt"/>
<line x1="657.5" y1="655.7" x2="650.8" y2="659.4" stroke="#262626" stroke-width="2.8" stroke-linecap="butt"/>
<line x1="708.0" y1="684.3" x2="701.3" y2="688.0" stroke="#262626" stroke-width="2.8" stroke-linecap="butt"/>
<line x1="706.2" y1="685.6" x2="869.2" y2="599.7" stroke="#262626" stroke-width="3.0" stroke-linecap="butt"/>
<line x1="729.3" y1="672.9" x2="736.0" y2="676.6" stroke="#262626" stroke-width="2.8" stroke-linecap="butt"/>
<line x1="779.1" y1="646.6" x2="785.8" y2="650.3" stroke="#262626" stroke-width="2.8" stroke-linecap="butt"/>
<line x1="828.5" y1="620.6" x2="835.2" y2="624.3" stroke="#262626" stroke-width="2.8" stroke-linecap="butt"/>
<text x="540.5" y="596.8" font-size="19.05" text-anchor="end">0</text>
<text x="540.5" y="558" font-size="19.05" text-anchor="end">20</text>
<text x="540.5" y="518.5" font-size="19.05" text-anchor="end">40</text>
<text x="540.5" y="480.4" font-size="19.05" text-anchor="end">60</text>
<text x="540.5" y="617.3" font-size="19.05" text-anchor="middle">0</text>
<text x="589.6" y="645.8" font-size="19.05" text-anchor="middle">5</text>
<text x="637.7" y="673" font-size="19.05" text-anchor="middle">10</text>
<text x="689.9" y="700.8" font-size="19.05" text-anchor="middle">15</text>
<text x="744.2" y="692.8" font-size="19.05" text-anchor="middle">5</text>
<text x="792.7" y="670" font-size="19.05" text-anchor="middle">10</text>
<text x="845.2" y="641" font-size="19.05" text-anchor="middle">15</text>
<text transform="translate(586.8,677) rotate(29)" font-size="19.05" text-anchor="middle">Time <tspan font-style="italic">(s)</tspan></text>
<text transform="translate(824.5999999999999,680.5) rotate(-27)" font-size="19.05" text-anchor="middle">Frequency (Hz)</text>
<text transform="translate(508.4,539.8) rotate(-90)" font-size="19.05" text-anchor="middle">Magnitude</text>
<rect x="884.7" y="418.7" width="15.9" height="246.9" fill="url(#cbar)" stroke="#000" stroke-width="1"/>
<text x="908.5" y="670.2" font-size="19.05">0</text>
<line x1="896.0999999999999" y1="624.5" x2="900.5999999999999" y2="624.5" stroke="#000" stroke-width="0.9"/>
<text x="908.5" y="629.1" font-size="19.05">10</text>
<line x1="896.0999999999999" y1="583.3" x2="900.5999999999999" y2="583.3" stroke="#000" stroke-width="0.9"/>
<text x="908.5" y="587.9" font-size="19.05">20</text>
<line x1="896.0999999999999" y1="542.2" x2="900.5999999999999" y2="542.2" stroke="#000" stroke-width="0.9"/>
<text x="908.5" y="546.8" font-size="19.05">30</text>
<line x1="896.0999999999999" y1="501.0" x2="900.5999999999999" y2="501.0" stroke="#000" stroke-width="0.9"/>
<text x="908.5" y="505.6" font-size="19.05">40</text>
<line x1="896.0999999999999" y1="459.9" x2="900.5999999999999" y2="459.9" stroke="#000" stroke-width="0.9"/>
<text x="908.5" y="464.5" font-size="19.05">50</text>
<text x="908.5" y="423.3" font-size="19.05">60</text>
</g>
<g id="panel-e">
<text x="983" y="22" font-size="26" font-weight="bold">e</text>
<line x1="1119.8" y1="48.5" x2="1119.8" y2="71.3" stroke="#000" stroke-width="1.8"/><path d="M1115.2,64.8 L1119.8,72.3 L1124.3999999999999,64.8 L1119.8,67.3 Z" fill="#000" stroke="#000" stroke-width="0.8" stroke-linejoin="miter"/>
<line x1="1119.8" y1="118" x2="1119.8" y2="139" stroke="#000" stroke-width="1.8"/><path d="M1115.2,132.5 L1119.8,140 L1124.3999999999999,132.5 L1119.8,135 Z" fill="#000" stroke="#000" stroke-width="0.8" stroke-linejoin="miter"/>
<line x1="1119.8" y1="187.6" x2="1119.8" y2="210.6" stroke="#000" stroke-width="1.8"/><path d="M1115.2,204.1 L1119.8,211.6 L1124.3999999999999,204.1 L1119.8,206.6 Z" fill="#000" stroke="#000" stroke-width="0.8" stroke-linejoin="miter"/>
<line x1="1071.1" y1="285" x2="1071.1" y2="470" stroke="#000" stroke-width="2"/>
<line x1="1071.1" y1="529" x2="1071.1" y2="556" stroke="#000" stroke-width="2"/><path d="M1066.5,549.5 L1071.1,557 L1075.6999999999998,549.5 L1071.1,552 Z" fill="#000" stroke="#000" stroke-width="0.8" stroke-linejoin="miter"/>
<line x1="1150.8" y1="290" x2="1150.8" y2="540" stroke="#000" stroke-width="2"/>
<line x1="1150.8" y1="539" x2="1150.8" y2="556" stroke="#000" stroke-width="2"/><path d="M1146.2,549.5 L1150.8,557 L1155.3999999999999,549.5 L1150.8,552 Z" fill="#000" stroke="#000" stroke-width="0.8" stroke-linejoin="miter"/>
<line x1="1112.5" y1="620" x2="1112.5" y2="642.2" stroke="#000" stroke-width="2"/><path d="M1107.9,635.7 L1112.5,643.2 L1117.1,635.7 L1112.5,638.2 Z" fill="#000" stroke="#000" stroke-width="0.8" stroke-linejoin="miter"/>
<polygon points="1080.2,1.8 1186.1,1.8 1159.9,48.5 1054.5,48.5" fill="#F8CBAD" stroke="#2F5597" stroke-width="1.6"/>
<text x="1120" y="21" font-size="19.05" text-anchor="middle">Input</text>
<text x="1120" y="39.9" font-size="19.05" text-anchor="middle">signal</text>
<rect x="1026.3" y="73.3" width="187" height="44.7" fill="#BDD7EE" stroke="#000" stroke-width="1.8"/>
<text x="1119.8" y="91.1" font-size="19.05" text-anchor="middle">Continuous wavelet</text>
<text x="1119.8" y="110" font-size="19.05" text-anchor="middle">transform (CWT)</text>
<rect x="1026.3" y="141" width="187" height="46.6" fill="#BDD7EE" stroke="#000" stroke-width="1.8"/>
<text x="1119.8" y="159.6" font-size="19.05" text-anchor="middle">Frequency range</text>
<text x="1119.8" y="179" font-size="19.05" text-anchor="middle">search in time domain</text>
<polygon points="1119.8,212.4 1258.3,256.5 1119.8,300.8 981.8,256.5" fill="#FFE699" stroke="#2F5597" stroke-width="1.6"/>
<text x="1119.8" y="253" font-size="19.05" text-anchor="middle">Determine whether a</text>
<text x="1119.8" y="271.2" font-size="19.05" text-anchor="middle">specific frequency is</text>
<text x="1119.8" y="290.7" font-size="19.05" text-anchor="middle">met</text>
<text x="1039.5" y="307.5" font-size="19.05">Yes</text>
<text x="1157" y="307.5" font-size="19.05">No</text>
<rect x="1012.6" y="316.6" width="117" height="44.3" rx="7.5" fill="#FFF2CC" stroke="#2F5597" stroke-width="1.5"/>
<text x="1071.1" y="334.7" font-size="19.05" text-anchor="middle">Butterworth</text>
<text x="1071.1" y="353.4" font-size="19.05" text-anchor="middle">filtering</text>
<rect x="1023.3" y="388.7" width="95.2" height="44.8" rx="7.5" fill="#FFF2CC" stroke="#2F5597" stroke-width="1.5"/>
<text x="1071.1" y="406.9" font-size="19.05" text-anchor="middle">Slope</text>
<text x="1071.1" y="425.5" font-size="19.05" text-anchor="middle">removal</text>
<rect x="1013.7" y="460.4" width="115" height="69.5" rx="9.5" fill="#FFF2CC" stroke="#2F5597" stroke-width="1.5"/>
<text x="1071.1" y="480.9" font-size="19.05" text-anchor="middle">Replace</text>
<text x="1071.1" y="499.6" font-size="19.05" text-anchor="middle">filtered</text>
<text x="1071.1" y="518.9" font-size="19.05" text-anchor="middle">component</text>
<rect x="1047.6" y="558" width="129.8" height="62" fill="#BDD7EE" stroke="#000" stroke-width="1.8"/>
<text x="1112.5" y="574.5" font-size="19.05" text-anchor="middle">Adaptive</text>
<text x="1112.5" y="594.2" font-size="19.05" text-anchor="middle">boundary</text>
<text x="1112.5" y="612.7" font-size="19.05" text-anchor="middle">adjustment</text>
<polygon points="1065.3,644 1191.3,644 1159,720 1033,720" fill="#F8CBAD" stroke="#2F5597" stroke-width="1.6"/>
<text x="1112.5" y="665.9" font-size="19.05" text-anchor="middle">Output</text>
<text x="1112.5" y="684.9" font-size="19.05" text-anchor="middle">corrected</text>
<text x="1112.5" y="702.7" font-size="19.05" text-anchor="middle">signal</text>
</g>
</svg>
</body></html>
